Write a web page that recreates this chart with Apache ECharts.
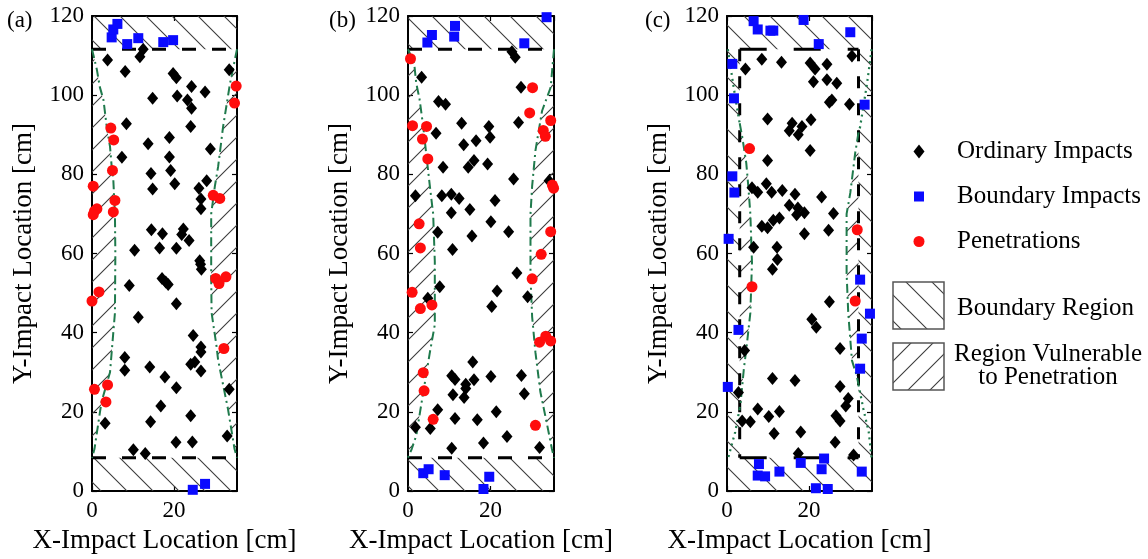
<!DOCTYPE html>
<html>
<head>
<meta charset="utf-8">
<script src="https://cdn.jsdelivr.net/npm/echarts@6.0.0/dist/echarts.min.js"></script>
<style>
html, body { margin: 0; padding: 0; background: #ffffff; }
#impactChart { width: 1148px; height: 559px; }
</style>
</head>
<body>
<div id="impactChart"></div>
<script>
// axis extents and region limits [cm]
const XMAX = 35.4, YMAX = 120;
const BOUND_LO = 8.4, BOUND_HI = 111.6;
const C_BX_LO = 3.1, C_BX_HI = 32.1;
const panelNames = ['(a)', '(b)', '(c)'];

// ---- panel (a) ----
const aOrdinary = [
  [3.8,108.9],[12.5,111.6],[11.7,109.7],[8.1,106.0],[19.8,105.5],[20.6,104.4],[14.8,99.2],[20.8,99.8],
  [24.3,102.2],[27.6,100.8],[23.3,98.8],[24.3,96.7],[33.5,106.4],[8.4,92.8],[24.1,92.1],[13.7,87.7],
  [18.9,89.3],[18.9,84.4],[19.2,81.0],[7.3,84.3],[28.9,86.4],[14.4,80.2],[14.8,76.3],[20.2,77.6],
  [26.1,76.5],[28.0,78.4],[26.6,73.8],[26.6,71.3],[14.5,66.0],[17.2,65.0],[22.3,66.2],[21.9,64.8],
  [23.7,63.3],[16.5,61.4],[20.6,61.3],[10.4,60.8],[26.3,58.2],[26.5,57.3],[26.7,56.0],[9.1,51.9],
  [17.1,53.7],[18.0,52.8],[18.6,52.2],[20.6,47.3],[11.3,43.9],[24.7,39.3],[26.6,36.4],[26.6,35.1],
  [8.0,33.7],[24.1,32.0],[25.1,32.6],[14.1,31.3],[26.6,30.3],[8.0,30.5],[17.8,28.8],[20.6,26.1],
  [33.5,25.7],[16.8,21.5],[24.1,19.0],[3.2,17.1],[14.3,17.5],[20.5,12.3],[24.5,12.4],[33.0,13.9],
  [10.1,10.4],[13.0,9.5]
];
const aBoundary = [
  [4.8,114.6],[5.2,116.6],[6.2,118.0],[8.6,112.9],[11.3,114.4],[17.4,113.4],[19.8,113.9],
  [24.6,0.3],[27.6,1.8]
];
const aPenetration = [
  [0.3,77.0],[4.6,91.7],[5.3,88.7],[5.0,81.0],[35.2,102.3],[34.8,98.0],[0.6,70.7],[1.2,71.3],
  [0.3,69.8],[5.6,73.4],[5.2,70.5],[29.6,74.7],[31.2,73.9],[0.0,48.0],[1.7,50.3],[30.2,53.7],
  [31.0,52.4],[32.7,54.1],[32.2,36.0],[0.6,25.7],[3.8,26.8],[3.4,22.5]
];
const aLeftCurve = [
  [0,111.6],[1.2,106.4],[1.9,102.1],[2.8,98.8],[3.6,92],[4.4,87],[4.8,82],[5.2,78.7],[5.6,70],
  [5.7,60],[5.6,45],[4.8,35],[4.4,30],[2.3,22.4],[0.6,10.6],[0,8.4]
];
const aRightCurve = [
  [35.4,111.6],[33.7,103],[32.0,92],[30.8,82],[30.0,77],[29.1,70],[29.1,54],[29.2,45],[30.4,36.6],
  [30.8,33],[33.2,20.7],[34.8,10.6],[35.4,8.4]
];

// ---- panel (b) ----
const bOrdinary = [
  [25.2,111.0],[26.0,109.6],[3.3,104.5],[27.4,102.0],[7.4,98.4],[9.1,97.7],[13.0,92.9],[6.8,90.4],
  [19.6,92.1],[19.9,89.4],[13.5,87.5],[16.5,88.5],[26.8,93.1],[8.5,81.8],[14.6,81.8],[16.0,83.5],
  [19.3,82.6],[25.6,78.8],[34.2,78.4],[1.8,74.6],[8.2,74.6],[10.5,75.0],[12.4,73.9],[21.1,73.4],
  [10.5,70.3],[15.0,71.1],[20.1,68.0],[7.2,65.4],[15.5,64.4],[24.4,65.5],[10.8,61.0],[26.4,55.1],
  [7.7,51.6],[21.6,50.5],[4.8,48.7],[20.3,46.6],[29.0,49.1],[15.7,32.6],[10.6,29.1],[11.4,28.2],
  [16.0,28.1],[20.1,28.9],[27.5,29.2],[14.0,27.0],[14.0,25.9],[10.9,24.3],[13.6,23.6],[28.2,24.6],
  [7.2,20.5],[21.4,20.0],[11.4,18.3],[16.8,18.0],[1.8,16.1],[5.4,15.8],[24.0,13.8],[18.3,12.1],
  [10.6,10.8],[31.9,11.0]
];
const bBoundary = [
  [4.7,113.3],[5.8,115.2],[11.4,117.5],[11.2,114.8],[28.2,113.1],[33.6,119.7],
  [3.7,4.5],[5.0,5.5],[8.9,4.0],[18.3,0.5],[19.7,3.6]
];
const bPenetration = [
  [0.6,109.2],[1.1,92.3],[4.5,92.1],[3.5,88.9],[4.8,83.9],[30.2,101.9],[29.5,95.5],[34.6,93.6],
  [32.8,91.1],[33.3,89.6],[35.0,77.3],[35.3,76.5],[2.7,67.5],[3.0,61.4],[1.0,50.2],[3.0,46.1],
  [5.8,47.0],[34.6,65.5],[32.3,59.8],[30.1,53.6],[31.9,37.6],[33.4,39.1],[34.6,37.9],[3.7,29.9],
  [3.9,25.3],[6.1,18.1],[30.9,16.6]
];
const bLeftCurve = [
  [0,111.6],[1.5,108],[2.0,103],[2.8,99],[3.7,92],[4.5,84.4],[5.3,77],[6.1,70],[6.5,58],[6.5,42],
  [5.3,35],[3.3,22.4],[2.0,14],[0.9,10.6],[0,8.4]
];
const bRightCurve = [
  [35.4,111.6],[34.6,102],[32.5,96],[30.9,86],[30.1,77],[29.7,70],[29.7,54],[30.1,44],[30.9,35],
  [32.1,25],[33.8,16.4],[34.9,10.6],[35.4,8.4]
];

// ---- panel (c) ----
const cOrdinary = [
  [4.5,106.6],[8.5,109.1],[13.3,108.3],[20.3,108.1],[21.5,106.6],[24.4,107.8],[30.5,109.9],[21.1,103.4],
  [24.4,103.9],[26.8,103.0],[25.6,98.8],[25.0,98.2],[29.9,97.7],[9.9,94.0],[15.9,92.9],[15.2,91.0],
  [18.3,92.1],[17.4,90.0],[20.5,93.8],[20.3,86.0],[9.9,83.5],[6.1,76.6],[7.5,75.5],[9.6,77.6],
  [10.9,75.5],[13.5,75.9],[16.6,75.0],[23.1,74.3],[15.2,72.2],[17.3,71.5],[17.0,69.8],[18.9,70.3],
  [26.0,70.1],[11.3,68.4],[12.8,69.0],[8.5,66.9],[9.9,66.5],[24.8,65.9],[18.9,65.0],[6.5,61.6],
  [12.2,61.6],[12.3,58.5],[11.1,56.0],[25.0,47.8],[20.7,43.4],[21.8,41.4],[27.6,36.0],[4.3,35.5],
  [11.1,28.4],[16.6,27.9],[27.6,26.4],[29.6,23.4],[29.0,21.5],[2.8,24.9],[7.5,20.7],[10.2,18.8],
  [12.8,20.1],[3.7,17.7],[5.7,17.5],[11.5,14.5],[18.0,14.9],[26.6,19.0],[27.6,17.7],[26.4,12.3],
  [17.4,9.5],[30.9,9.1]
];
const cBoundary = [
  [6.5,118.7],[7.5,116.6],[10.6,116.3],[11.3,116.3],[18.7,119.0],[22.4,112.9],[30.1,115.9],[1.3,107.9],
  [1.7,99.2],[33.6,97.6],[1.3,79.5],[1.8,75.4],[0.4,63.7],[32.5,53.4],[34.9,44.8],[2.8,40.7],
  [32.9,38.5],[32.5,30.9],[0.2,26.3],[7.8,6.8],[7.5,3.9],[9.3,3.7],[12.8,4.9],[18.0,7.1],
  [23.1,5.5],[23.7,8.2],[21.7,0.7],[24.6,0.5],[32.9,4.9]
];
const cPenetration = [[5.5,86.5],[6.1,51.6],[31.8,66.0],[31.3,48.0]];
const cLeftCurve = [
  [0.2,111.6],[1.6,102.2],[2.8,94.6],[3.1,92.9],[3.7,89.6],[4.7,82.9],[5.2,77],[5.7,70],[6.1,57.7],
  [5.7,45],[4.8,36.6],[4.1,30.7],[3.3,22],[3.1,20.9],[2.0,14.9],[0.3,8.4]
];
const cRightCurve = [
  [35.3,111.6],[34.2,103],[32.5,92],[32.1,90.5],[31.3,85.4],[30.1,75.3],[29.2,70],[29.2,55],[29.6,45],
  [30.5,33],[31.7,29],[32.1,26.9],[33.3,20.7],[34.6,14.9],[35.3,8.4]
];

const SERIF = '"Liberation Serif", "DejaVu Serif", serif';
const GREEN = '#1f7a4c';

// diagonal hatch fills
function makeHatch(size, dir) {
  const c = document.createElement('canvas');
  c.width = size; c.height = size;
  const g = c.getContext('2d');
  g.strokeStyle = '#3c3c3c';
  g.lineWidth = 1.1;
  g.beginPath();
  if (dir === 'down') {
    g.moveTo(0, 0); g.lineTo(size, size);
    g.moveTo(-2, size - 2); g.lineTo(2, size + 2);
    g.moveTo(size - 2, -2); g.lineTo(size + 2, 2);
  } else {
    g.moveTo(0, size); g.lineTo(size, 0);
    g.moveTo(-2, 2); g.lineTo(2, -2);
    g.moveTo(size - 2, size + 2); g.lineTo(size + 2, size - 2);
  }
  g.stroke();
  return { image: c, repeat: 'repeat' };
}
const boundaryHatch = makeHatch(26, 'down');
const vulnerableHatch = makeHatch(22, 'up');

const gridLefts = [92, 408, 727];
const gridWidths = [145, 146, 145];

const grids = [], xAxes = [], yAxes = [], series = [];

function areaSeries(k, pts, fill) {
  return {
    type: 'custom', xAxisIndex: 2 * k, yAxisIndex: 2 * k, silent: true, z: 1,
    data: [pts[0]],
    renderItem: function (params, api) {
      return {
        type: 'polygon',
        shape: { points: pts.map(function (p) { return api.coord(p); }) },
        style: { fill: fill }
      };
    }
  };
}
function lineSeries(k, pts, color, width, dash, z) {
  return {
    type: 'line', xAxisIndex: 2 * k, yAxisIndex: 2 * k, data: pts, symbol: 'none', silent: true,
    z: z, lineStyle: { color: color, width: width, type: dash }
  };
}
function scatter(k, name, pts, symbol, size, color) {
  return {
    type: 'scatter', name: name, xAxisIndex: 2 * k, yAxisIndex: 2 * k, data: pts,
    symbol: symbol, symbolSize: size, itemStyle: { color: color, opacity: 1 }, z: 5
  };
}
function splitCurve(pts, inside) {
  const first = pts.findIndex(inside);
  let last = pts.length - 1;
  while (last >= 0 && !inside(pts[last])) last--;
  return { top: pts.slice(0, first + 1), mid: pts.slice(first, last + 1), bottom: pts.slice(last) };
}

const panels = [
  { ord: aOrdinary, bnd: aBoundary, pen: aPenetration, left: aLeftCurve, right: aRightCurve },
  { ord: bOrdinary, bnd: bBoundary, pen: bPenetration, left: bLeftCurve, right: bRightCurve },
  { ord: cOrdinary, bnd: cBoundary, pen: cPenetration, left: cLeftCurve, right: cRightCurve }
];

const tickFont = { fontFamily: SERIF, fontSize: 23, color: '#000' };

panels.forEach(function (p, k) {
  grids.push({ left: gridLefts[k], width: gridWidths[k], top: 16, height: 476 });
  const tickStyle = { show: true, inside: true, length: 5, lineStyle: { color: '#000', width: 1.2 } };
  const lineStyle = { show: true, onZero: false, lineStyle: { color: '#000', width: 2 } };
  xAxes.push({
    type: 'value', gridIndex: k, min: 0, max: XMAX, interval: 20, position: 'bottom',
    axisLine: lineStyle, axisTick: tickStyle, splitLine: { show: false },
    axisLabel: Object.assign({ showMaxLabel: false, margin: 8 }, tickFont),
    name: 'X-Impact Location [cm]', nameLocation: 'middle', nameGap: 36,
    nameTextStyle: { fontFamily: SERIF, fontSize: 27, color: '#000' }
  });
  xAxes.push({
    type: 'value', gridIndex: k, min: 0, max: XMAX, interval: 20, position: 'top',
    axisLine: lineStyle, axisTick: tickStyle, splitLine: { show: false }, axisLabel: { show: false }
  });
  yAxes.push({
    type: 'value', gridIndex: k, min: 0, max: YMAX, interval: 20, position: 'left',
    axisLine: lineStyle, axisTick: tickStyle, splitLine: { show: false },
    axisLabel: Object.assign({ margin: 8 }, tickFont),
    name: 'Y-Impact Location [cm]', nameLocation: 'middle', nameGap: 55,
    nameTextStyle: { fontFamily: SERIF, fontSize: 27, color: '#000' }
  });
  yAxes.push({
    type: 'value', gridIndex: k, min: 0, max: YMAX, interval: 20, position: 'right',
    axisLine: lineStyle, axisTick: tickStyle, splitLine: { show: false }, axisLabel: { show: false }
  });

  // boundary regions (top and bottom bands)
  series.push(areaSeries(k, [[0, BOUND_HI], [XMAX, BOUND_HI], [XMAX, YMAX], [0, YMAX]], boundaryHatch));
  series.push(areaSeries(k, [[0, 0], [XMAX, 0], [XMAX, BOUND_LO], [0, BOUND_LO]], boundaryHatch));

  if (k < 2) {
    // vulnerable regions between wall and curve
    series.push(areaSeries(k, p.left.concat([[0, BOUND_LO], [0, BOUND_HI]]), vulnerableHatch));
    series.push(areaSeries(k, p.right.concat([[XMAX, BOUND_LO], [XMAX, BOUND_HI]]), vulnerableHatch));
    series.push(lineSeries(k, [[0, BOUND_HI], [XMAX, BOUND_HI]], '#000', 3, [14, 16], 3));
    series.push(lineSeries(k, [[0, BOUND_LO], [XMAX, BOUND_LO]], '#000', 3, [14, 16], 3));
    series.push(lineSeries(k, p.left, GREEN, 2, [9, 4, 2, 4], 4));
    series.push(lineSeries(k, p.right, GREEN, 2, [9, 4, 2, 4], 4));
  } else {
    series.push(areaSeries(k, [[0, BOUND_LO], [C_BX_LO, BOUND_LO], [C_BX_LO, BOUND_HI], [0, BOUND_HI]], boundaryHatch));
    series.push(areaSeries(k, [[C_BX_HI, BOUND_LO], [XMAX, BOUND_LO], [XMAX, BOUND_HI], [C_BX_HI, BOUND_HI]], boundaryHatch));
    const leftIn = p.left.map(function (q) { return [Math.max(q[0], C_BX_LO), q[1]]; });
    const rightIn = p.right.map(function (q) { return [Math.min(q[0], C_BX_HI), q[1]]; });
    series.push(areaSeries(k, leftIn.concat([[C_BX_LO, BOUND_LO], [C_BX_LO, BOUND_HI]]), vulnerableHatch));
    series.push(areaSeries(k, rightIn.concat([[C_BX_HI, BOUND_LO], [C_BX_HI, BOUND_HI]]), vulnerableHatch));
    series.push(lineSeries(k, [[C_BX_LO, BOUND_HI], [C_BX_HI, BOUND_HI]], '#000', 3, [27, 27], 3));
    series.push(lineSeries(k, [[C_BX_LO, BOUND_LO], [C_BX_HI, BOUND_LO]], '#000', 3, [27, 27], 3));
    series.push(lineSeries(k, [[C_BX_LO, BOUND_HI], [C_BX_LO, BOUND_LO]], '#000', 3, [12, 15], 3));
    series.push(lineSeries(k, [[C_BX_HI, BOUND_HI], [C_BX_HI, BOUND_LO]], '#000', 3, [12, 15], 3));
    const ls = splitCurve(p.left, function (q) { return q[0] >= C_BX_LO - 1e-6; });
    const rs = splitCurve(p.right, function (q) { return q[0] <= C_BX_HI + 1e-6; });
    [ls, rs].forEach(function (s) {
      series.push(lineSeries(k, s.top, GREEN, 2.2, [2, 4], 4));
      series.push(lineSeries(k, s.mid, GREEN, 2, [9, 4, 2, 4], 4));
      series.push(lineSeries(k, s.bottom, GREEN, 2.2, [2, 4], 4));
    });
  }

  series.push(scatter(k, 'Ordinary Impacts', p.ord, 'diamond', [11, 13], '#000000'));
  series.push(scatter(k, 'Boundary Impacts', p.bnd, 'rect', 10, '#0a0aff'));
  series.push(scatter(k, 'Penetrations', p.pen, 'circle', 11, '#ff0d0d'));
});

const legendItems = [
  { name: 'Ordinary Impacts', icon: 'diamond', w: 11, h: 14, cy: 152 },
  { name: 'Boundary Impacts', icon: 'rect', w: 10, h: 10, cy: 197 },
  { name: 'Penetrations', icon: 'circle', w: 11, h: 11, cy: 242 }
];
const legends = legendItems.map(function (it) {
  return {
    data: [{ name: it.name, icon: it.icon }], orient: 'vertical', padding: 0, selectedMode: false,
    left: 919 - it.w / 2, top: it.cy - 13, itemWidth: it.w, itemHeight: it.h,
    textStyle: {
      fontFamily: SERIF, fontSize: 25, color: '#000',
      padding: [0, 0, 0, 957 - (919 + it.w / 2 + 5)]
    }
  };
});

const labelFont = '23px ' + SERIF;
const legendFont = '25px ' + SERIF;
const graphics = [
  { type: 'text', x: 7, y: 21, style: { text: panelNames[0], font: labelFont, fill: '#000', align: 'left', verticalAlign: 'middle', textAlign: 'left', textVerticalAlign: 'middle' } },
  { type: 'text', x: 329, y: 21, style: { text: panelNames[1], font: labelFont, fill: '#000', align: 'left', verticalAlign: 'middle', textAlign: 'left', textVerticalAlign: 'middle' } },
  { type: 'text', x: 645, y: 21, style: { text: panelNames[2], font: labelFont, fill: '#000', align: 'left', verticalAlign: 'middle', textAlign: 'left', textVerticalAlign: 'middle' } },
  { type: 'rect', shape: { x: 893, y: 282, width: 51, height: 47 }, style: { fill: boundaryHatch, stroke: '#555', lineWidth: 1.5 } },
  { type: 'rect', shape: { x: 893, y: 343, width: 51, height: 47 }, style: { fill: vulnerableHatch, stroke: '#555', lineWidth: 1.5 } },
  { type: 'text', x: 957, y: 308, style: { text: 'Boundary Region', font: legendFont, fill: '#000', align: 'left', verticalAlign: 'middle', textAlign: 'left', textVerticalAlign: 'middle' } },
  { type: 'text', x: 1048, y: 366, style: { text: 'Region Vulnerable\nto Penetration', font: legendFont, lineHeight: 23, fill: '#000', align: 'center', verticalAlign: 'middle', textAlign: 'center', textVerticalAlign: 'middle' } }
];

const chart = echarts.init(document.getElementById('impactChart'));
chart.setOption({
  animation: false,
  backgroundColor: '#ffffff',
  textStyle: { fontFamily: SERIF, color: '#000' },
  grid: grids,
  xAxis: xAxes,
  yAxis: yAxes,
  legend: legends,
  graphic: graphics,
  series: series
});
</script>
</body>
</html>
